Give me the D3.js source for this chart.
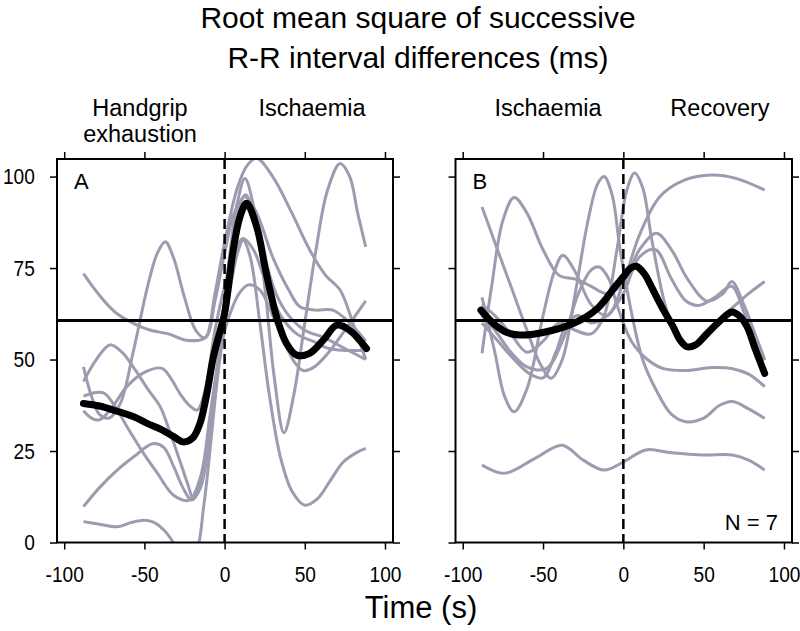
<!DOCTYPE html>
<html>
<head>
<meta charset="utf-8">
<script src="https://cdn.jsdelivr.net/npm/d3@7"></script>
<style>
  body { margin: 0; background: #fff; }
  text { font-family: "Liberation Sans", Arial, sans-serif; fill: #000; }
</style>
</head>
<body>
<svg id="chart" width="800" height="631"></svg>
<script>
// tick labels
const xTicks = [-100, -50, 0, 50, 100];
const yTicks = [0, 25, 50, 75, 100];
const baseline = 60.7; // horizontal reference level (ms)

// panel A: handgrip exhaustion -> ischaemia, one line per subject
const subjectsA = [
  [[-88,73.5],[-77,67],[-67,62.5],[-55,59.5],[-46,58],[-35,57],[-24,55.3],[-12,56],[-6,66],[0,79],[6,90],[12.7,94.5],[20,90],[30,78],[40,69],[47,64.4],[57,63.5],[67.5,63.5],[78,60],[88,55]],
  [[-88,48],[-83,40],[-78,35],[-72,34],[-65,38],[-57,52],[-48,70],[-42,79],[-37,82.2],[-32,78],[-25,67],[-18,58],[-12,56],[-6,68],[0,82],[8,97],[14,103],[20,105],[30,100],[42,90],[53,80],[63,73],[72,69],[80,60],[88,50]],
  [[-88,44],[-80,50],[-71.5,54],[-64,52],[-57,48],[-48,42],[-40,37],[-34,30],[-28,22.5],[-23,16],[-19.5,12],[-15,16],[-9,30],[-3,55],[3,78],[8,93],[12.7,99.5],[18,92],[25,70],[31,45],[37,30],[43,40],[50,60],[57,80],[64,96],[72,103.6],[78,100],[83,90],[88,80.8]],
  [[-88,36],[-83,34],[-78,33.5],[-70,37],[-61,42.6],[-50,46.5],[-39,47.6],[-33,44.5],[-28,40.8],[-22,37.5],[-17,36.2],[-12,42],[-6,58],[0,70],[6,79],[11.6,83.1],[18,80],[25,72],[35,62],[45,57],[55,55],[65,53],[75,52.5],[88,52.5]],
  [[-88,40],[-80,41],[-75,40.8],[-68,37],[-60,31],[-50,24],[-42,19],[-32,13],[-22,11.6],[-15,18],[-9,35],[-3,52],[3,62],[9,68],[14.8,70.4],[22,69],[30,62],[38,54],[44,49],[49,47],[56,48],[65,52],[75,58],[88,66]],
  [[-88,9.8],[-78,15],[-67,19.8],[-55,24],[-45,27],[-38,26],[-32,21],[-26,15],[-20.6,11.6],[-15,15],[-9,30],[-3,50],[3,68],[8,79],[11.6,82.6],[16,78],[22,60],[28,40],[35,23],[42,14],[50,10.2],[58,12],[66,17],[74,22],[82,24.5],[88,25.7]],
  [[-88,5.7],[-78,5],[-67,4.3],[-58,5.5],[-50,6.1],[-44,5.5],[-38,3.5],[-32,0],[-25,-6],[-18,-3],[-13,10],[-8,30],[-3,52],[2,72],[7,88],[13,95],[18,90],[25,78],[32,68],[40,62],[50,58],[62,56],[75,53],[88,50]]
];
const meanA = [[-88,38],[-78,37.3],[-68,36],[-57,34.4],[-48,32.5],[-40,31],[-32,29],[-26,27.5],[-20,28.5],[-15.4,32.5],[-11,40.8],[-7,50.7],[-3,57.5],[0,62.6],[5.4,80],[9.6,89],[13.7,92.7],[20,86.3],[26,73.5],[32.4,61.7],[38.6,54.4],[45,51.2],[53,51.7],[61.5,55.3],[70,59.4],[78,58],[88.5,53]];

// panel B: ischaemia -> recovery
const subjectsB = [
  [[-88,21.2],[-74,18.9],[-55,23],[-38,26.6],[-25,22.5],[-12,19.8],[0,22],[14,25.3],[30,24.5],[50,23.9],[68,23.9],[78,22.5],[88,19.8]],
  [[-88,91.7],[-80,82],[-70,70],[-60,58],[-52,49],[-45,44.9],[-38,50],[-30,68],[-22,88],[-16,98],[-12,100],[-7,95],[-2,80],[5,63],[12,50],[20,42],[30,35],[39,33],[50,34],[60,37.5],[68,38.5],[78,36.5],[88,33.9]],
  [[-88,51.7],[-82,70],[-75,88],[-68,94.3],[-60,90],[-50,80],[-40,73],[-30,72],[-20,70],[-10,68],[0,71],[10,80],[20.6,84.5],[30,80],[40,72],[52,66],[62,68],[67.5,71.3],[75,65],[82,57],[88,50]],
  [[-88,67],[-80,52],[-74,40],[-68,35.7],[-60,42],[-50,62],[-43,74],[-37.7,78.5],[-30,74],[-20,65],[-10,62],[0,71],[10,84],[22.7,94.5],[38,99],[55,100.4],[70,99.5],[88,96.3]],
  [[-88,62],[-80,58],[-70,52],[-60,48],[-48,47.5],[-38,55],[-28,68],[-20,74.5],[-15,75.3],[-9,72],[-4,65],[5,55],[15,50],[25,47.5],[40,47],[55,47.8],[68,47.5],[78,46],[88,42.6]],
  [[-88,65],[-80,62],[-70,57],[-60,52],[-50,55],[-40,60],[-30,58],[-20,57],[-12,62],[-4,80],[2,96],[7,101],[12,97],[18,82],[27,63.5],[35,56],[41,53.5],[52,58],[65,63],[78,68],[88,71.3]],
  [[-88,60],[-78,55],[-68,50],[-58,46],[-50,45],[-42,52],[-35,60],[-28,62],[-20,60],[-10,62],[0,68],[10,78],[20,80],[30,72],[39,66],[47,64.8],[57,67],[67.5,70],[75,63],[82,55],[88,49.8]]
];
const meanB = [[-88.7,63.5],[-80,59.5],[-72,57.3],[-64.8,56.7],[-55,57],[-44,58],[-33,59.5],[-23,61.7],[-16,64],[-10.6,66.7],[-5,70],[0,72.6],[4,74.8],[8,75.5],[13,73.5],[18.5,69],[25,63.5],[31,59],[35,55.5],[39.4,53.5],[45,54],[52,57],[60,60.5],[67.5,63],[72,62],[77,59],[82,53],[88,46.2]];

const svg = d3.select("#chart");
const plotTop = 159, plotBottom = 542.5;
const y = d3.scaleLinear().domain([0, 104.8]).range([plotBottom, plotTop]);
const squeeze = 0.85; // tick labels are set in a narrow face

let label = (g, x0, y0, str, size, anchor) => {
  return g.append("text")
    .attr("x", x0)
    .attr("y", y0)
    .attr("text-anchor", anchor || "middle")
    .style("font-size", size + "px")
    .text(str);
};

let panel = (left, right, subjects, mean, letter, showYLabels, id) => {
  const x = d3.scaleLinear().domain([-104.5, 105]).range([left, right]);
  const g = svg.append("g");

  g.append("clipPath").attr("id", "clip" + id)
    .append("rect").attr("x", left).attr("y", plotTop).attr("width", right - left).attr("height", plotBottom - plotTop);

  const line = d3.line()
    .x((d) => x(d[0]))
    .y((d) => y(d[1]))
    .curve(d3.curveCatmullRom.alpha(0.5));

  const plot = g.append("g").attr("clip-path", `url(#clip${id})`);

  plot.selectAll("path.subject")
    .data(subjects)
    .join("path")
    .attr("class", "subject")
    .attr("d", line)
    .attr("fill", "none")
    .attr("stroke", "#9c9cb0")
    .attr("stroke-width", 3);

  plot.append("line")
    .attr("x1", left).attr("x2", right)
    .attr("y1", y(baseline)).attr("y2", y(baseline))
    .attr("stroke", "#000").attr("stroke-width", 3);

  plot.append("line")
    .attr("x1", x(0)).attr("x2", x(0))
    .attr("y1", plotTop).attr("y2", plotBottom)
    .attr("stroke", "#000").attr("stroke-width", 2.5)
    .attr("stroke-dasharray", "10,5");

  plot.append("path")
    .datum(mean)
    .attr("d", line)
    .attr("fill", "none")
    .attr("stroke", "#000")
    .attr("stroke-width", 7)
    .attr("stroke-linecap", "round");

  // frame
  g.append("rect")
    .attr("x", left).attr("y", plotTop)
    .attr("width", right - left).attr("height", plotBottom - plotTop)
    .attr("fill", "none").attr("stroke", "#000").attr("stroke-width", 2);

  const tickStyle = (sel) => {
    sel.select(".domain").remove();
    sel.selectAll(".tick line").attr("stroke", "#000").attr("stroke-width", 1.5);
  };

  g.append("g").attr("transform", `translate(0,${plotBottom})`)
    .call(d3.axisBottom(x).tickValues(xTicks).tickSize(7).tickPadding(17).tickFormat((d) => String(d)))
    .call(tickStyle)
    .selectAll("text")
    .style("font-size", "22.5px")
    .attr("transform", `scale(${squeeze},1)`);

  g.append("g").attr("transform", `translate(0,${plotTop})`)
    .call(d3.axisTop(x).tickValues(xTicks).tickSize(7).tickFormat(""))
    .call(tickStyle);

  g.append("g").attr("transform", `translate(${left},0)`)
    .call(d3.axisLeft(y).tickValues(yTicks).tickSize(7).tickPadding(19).tickFormat(showYLabels ? (d) => String(d) : ""))
    .call(tickStyle)
    .selectAll("text")
    .style("font-size", "22.5px")
    .attr("transform", `scale(${squeeze},1)`);

  g.append("g").attr("transform", `translate(${right},0)`)
    .call(d3.axisRight(y).tickValues(yTicks).tickSize(7).tickFormat(""))
    .call(tickStyle);

  label(g, left + 17, plotTop + 30, letter, 22, "start");
  return x;
};

const xA = panel(57, 393, subjectsA, meanA, "A", true, "A");
const xB = panel(455.5, 792, subjectsB, meanB, "B", false, "B");

// N
label(svg, 778, 530, "N = 7", 22, "end");

// titles
label(svg, 418, 28, "Root mean square of successive", 30);
label(svg, 418, 68, "R-R interval differences (ms)", 30);

label(svg, 140, 116, "Handgrip", 23.5);
label(svg, 140, 142, "exhaustion", 23.5);
label(svg, 312, 116, "Ischaemia", 23.5);
label(svg, 548, 116, "Ischaemia", 23.5);
label(svg, 720, 116, "Recovery", 23.5);

label(svg, 421, 618, "Time (s)", 31);
</script>
</body>
</html>
